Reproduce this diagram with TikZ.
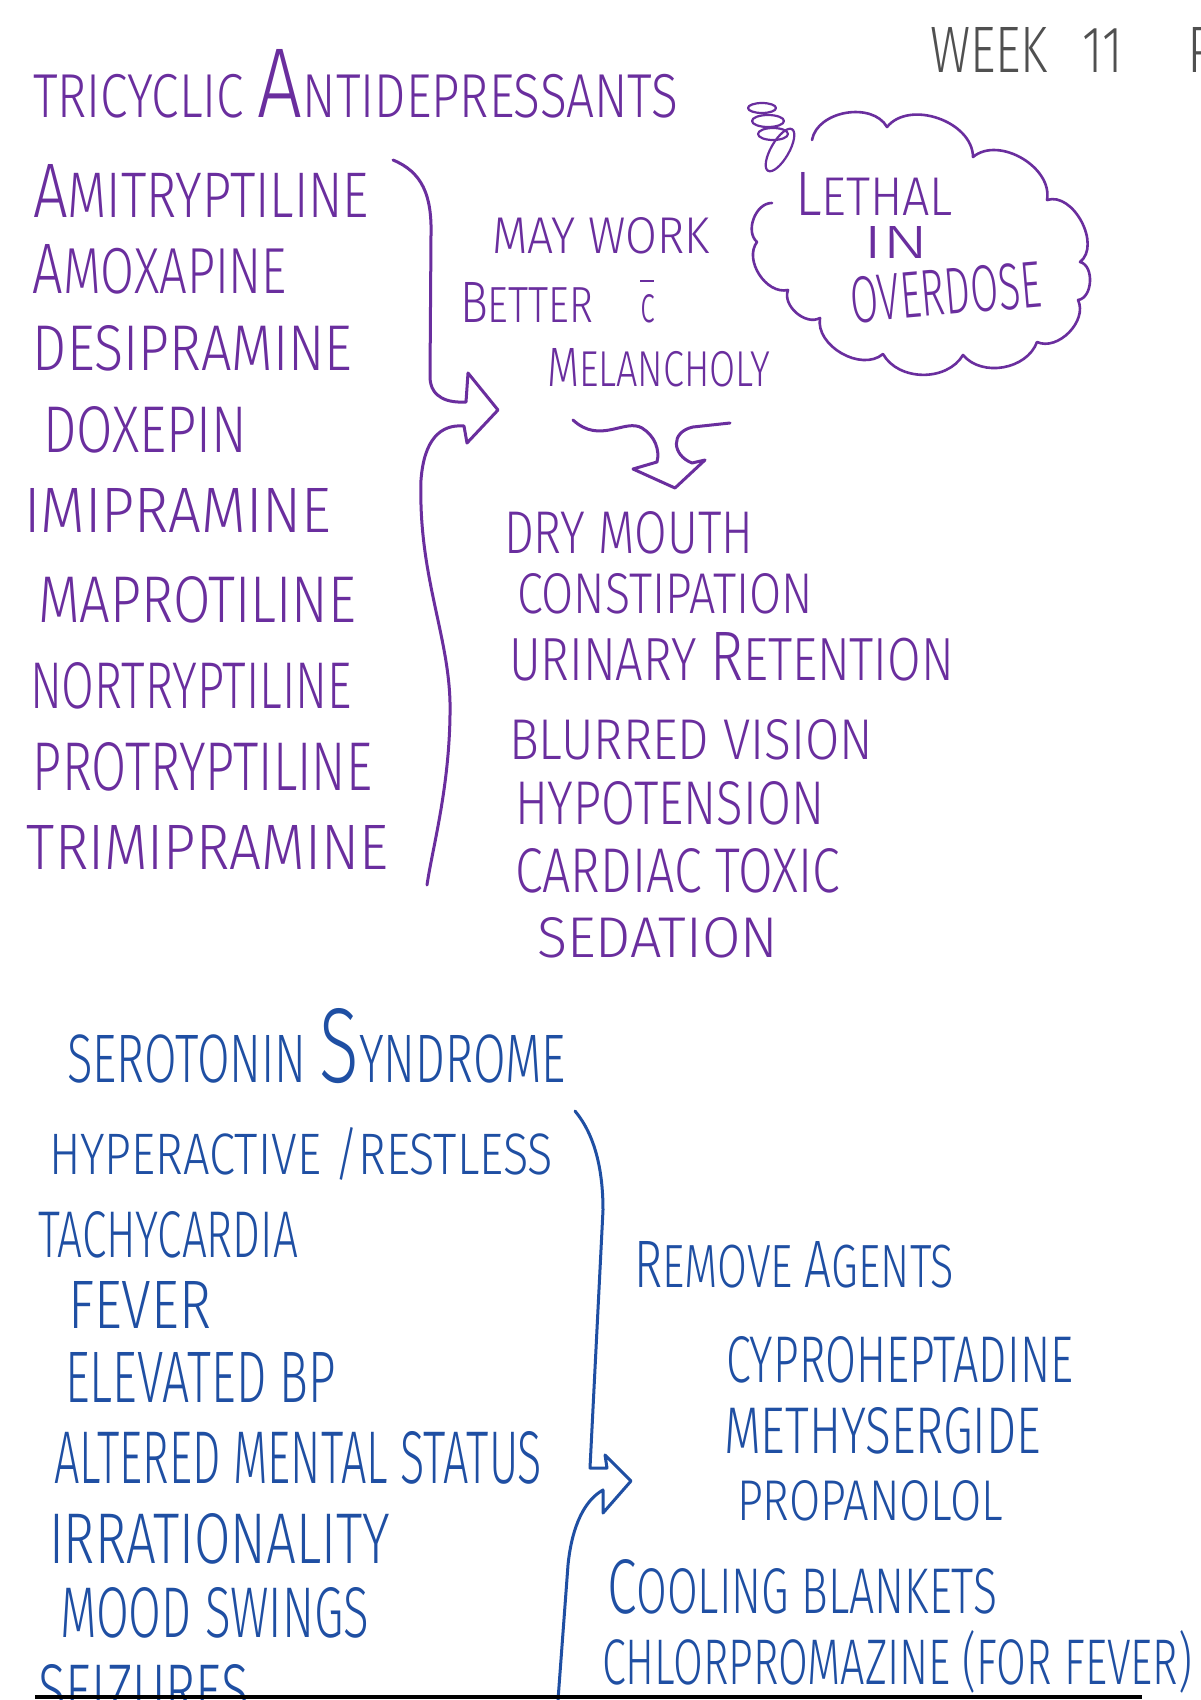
\documentclass[tikz,border=0pt]{standalone}
\usepackage{fontspec}
\setmainfont{Fira Sans Light}
\usepackage{graphicx}
\definecolor{purp}{HTML}{6A2E9E}
\definecolor{blu}{HTML}{1F4FA3}
\definecolor{pencil}{HTML}{505050}
\newcommand\fitt[3]{\resizebox{#1pt}{#2pt}{#3}}
\newcommand\initl[2][1.25]{\scalebox{#1}{#2}}
\begin{document}
\begin{tikzpicture}[x=1pt,y=-1pt,
  lbl/.style={anchor=base west, inner sep=0pt, outer sep=0pt},
  pt/.style={lbl, text=purp},
  bt/.style={lbl, text=blu},
  gt/.style={lbl, text=pencil},
  pen/.style={line width=3pt, line cap=round, line join=round},
  ppen/.style={pen, draw=purp},
  bpen/.style={pen, draw=blu}]
\fill[white] (0,0) rectangle (1200,1700);
\useasboundingbox (0,0) rectangle (1200,1700);

% ---------- header ----------
\node[pt] (title) at (33,117) {\fitt{645}{68}{TRICYCLIC \initl[1.6]{A}NTIDEPRESSANTS}};
\node[gt] (week) at (930,72) {\fitt{193}{45}{WEEK\hspace{0.7em}11}};
\node[gt] (pg) at (1187,72) {\fitt{30}{45}{P}};

% ---------- drug list ----------
\node[pt] (d1) at (33,217) {\fitt{336}{53}{\initl[1.2]{A}MITRYPTILINE}};
\node[pt] (d2) at (33,293) {\fitt{254}{49}{\initl[1.1]{A}MOXAPINE}};
\node[pt] (d3) at (33,370) {\fitt{319}{45}{DESIPRAMINE}};
\node[pt] (d4) at (43,452) {\fitt{204}{46}{DOXEPIN}};
\node[pt] (d5) at (24,532) {\fitt{307}{44}{IMIPRAMINE}};
\node[pt] (d6) at (38,622) {\fitt{318}{46}{MAPROTILINE}};
\node[pt] (d7) at (30,708) {\fitt{322}{46}{NORTRYPTILINE}};
\node[pt] (d8) at (33,790) {\fitt{339}{48}{PROTRYPTILINE}};
\node[pt] (d9) at (27,869) {\fitt{361}{44}{TRIMIPRAMINE}};

% ---------- note ----------
\node[pt] (may) at (492,253) {\fitt{218}{36}{MAY WORK}};
\node[pt] (better) at (460,322) {\fitt{133}{40}{\initl[1.15]{B}ETTER}};
\node[pt] (cbar) at (640,322) {\rlap{\rule[40pt]{14pt}{2.5pt}}\fitt{15}{28}{c}};
\node[pt] (mel) at (547,386) {\fitt{223}{38}{\initl[1.1]{M}ELANCHOLY}};

% ---------- cloud ----------
\node[pt] (leth) at (795,215) {\fitt{158}{43}{\initl[1.15]{L}ETHAL}};
\node[pt] (in) at (863,258) {\fitt{66}{32}{IN}};
\node[pt, rotate=5] (od) at (852,323) {\fitt{192}{46}{OVERDOSE}};
\draw[ppen, line width=2.6pt] (812,140) to[bend left=70] (887,127) to[bend left=70] (973,157)
  to[bend left=70] (1047,200) to[bend left=80] (1080,262) to[bend left=80] (1078,300)
  to[bend left=70] (1037,342) to[bend left=60] (963,355) to[bend left=60] (883,354)
  to[bend left=70] (820,318) to[bend left=70] (788,290) to[bend left=70] (757,242)
  to[bend left=70] (772,203);
\draw[ppen, line width=2.2pt] (762,108) ellipse [x radius=14, y radius=5];
\draw[ppen, line width=2.2pt] (768,121) ellipse [x radius=16, y radius=6];
\draw[ppen, line width=2.2pt] (773,134) ellipse [x radius=15, y radius=6];
\draw[ppen, line width=2.2pt] (780,150) ellipse [x radius=9, y radius=24, rotate=-30];

% ---------- side effects ----------
\node[pt] (s1) at (504,553) {\fitt{249}{42}{DRY MOUTH}};
\node[pt] (s2) at (517,613) {\fitt{296}{40}{CONSTIPATION}};
\node[pt] (s3) at (509,680) {\fitt{445}{48}{URINARY \initl[1.15]{R}ETENTION}};
\node[pt] (s4) at (509,759) {\fitt{364}{40}{BLURRED VISION}};
\node[pt] (s5) at (515,824) {\fitt{309}{43}{HYPOTENSION}};
\node[pt] (s6) at (515,892) {\fitt{325}{44}{CARDIAC TOXIC}};
\node[pt] (s7) at (537,957) {\fitt{241}{40}{SEDATION}};

% ---------- purple connectors ----------
\coordinate (ua) at (393,160);
\coordinate (uh) at (466,402);
\coordinate (lb) at (427,885);
\draw[ppen] (ua) .. controls (422,172) and (432,195) .. (431,235) -- (430,378)
  .. controls (431,398) and (448,403) .. (uh) -- (468,373) -- (498,410) -- (467,443) -- (464,426)
  .. controls (440,424) and (424,440) .. (421,480)
  .. controls (418,580) and (452,640) .. (450,715)
  .. controls (449,790) and (432,850) .. (lb);
\coordinate (sq1) at (573,420);
\coordinate (sq2) at (730,423);
\draw[ppen] (sq1) .. controls (600,445) and (625,418) .. (642,428)
  .. controls (655,436) and (660,450) .. (657,462) -- (633,469) -- (675,488) -- (705,460) -- (692,463)
  .. controls (672,455) and (670,432) .. (693,427) -- (sq2);

% ---------- serotonin syndrome ----------
\node[bt] (ss) at (67,1082) {\fitt{499}{74}{SEROTONIN \initl[1.55]{S}YNDROME}};
\node[bt] (y1) at (49,1174) {\fitt{504}{47}{HYPERACTIVE /RESTLESS}};
\node[bt] (y2) at (38,1257) {\fitt{260}{46}{TACHYCARDIA}};
\node[bt] (y3) at (68,1328) {\fitt{143}{47}{FEVER}};
\node[bt] (y4) at (65,1402) {\fitt{271}{50}{ELEVATED BP}};
\node[bt] (y5) at (54,1483) {\fitt{488}{52}{ALTERED MENTAL STATUS}};
\node[bt] (y6) at (49,1563) {\fitt{341}{50}{IRRATIONALITY}};
\node[bt] (y7) at (60,1637) {\fitt{309}{50}{MOOD SWINGS}};
\node[bt] (y8) at (38,1716) {\fitt{211}{52}{SEIZURES}};

\node[bt] (rm) at (634,1287) {\fitt{320}{46}{\initl[1.1]{R}EMOVE \initl[1.1]{A}GENTS}};
\node[bt] (t1) at (726,1382) {\fitt{347}{46}{CYPROHEPTADINE}};
\node[bt] (t2) at (724,1453) {\fitt{317}{46}{METHYSERGIDE}};
\node[bt] (t3) at (737,1520) {\fitt{266}{40}{PROPANOLOL}};
\node[bt] (cb) at (607,1613) {\fitt{390}{54}{\initl[1.2]{C}OOLING BLANKETS}};
\node[bt] (cp) at (602,1684) {\fitt{590}{54}{CHLORPROMAZINE (FOR FEVER)}};

% ---------- blue connectors ----------
\coordinate (ba) at (575,1111);
\coordinate (bh) at (607,1468);
\coordinate (bb) at (558,1700);
\draw[bpen] (ba) .. controls (595,1135) and (603,1170) .. (603,1210) -- (590,1468) -- (bh)
  -- (605,1455) -- (631,1481) -- (603,1513) -- (603,1490)
  .. controls (585,1500) and (572,1525) .. (568,1565) -- (bb);

% bottom edge line
\draw[line width=4pt] (35,1697) -- (1142,1697);
\end{tikzpicture}
\end{document}
